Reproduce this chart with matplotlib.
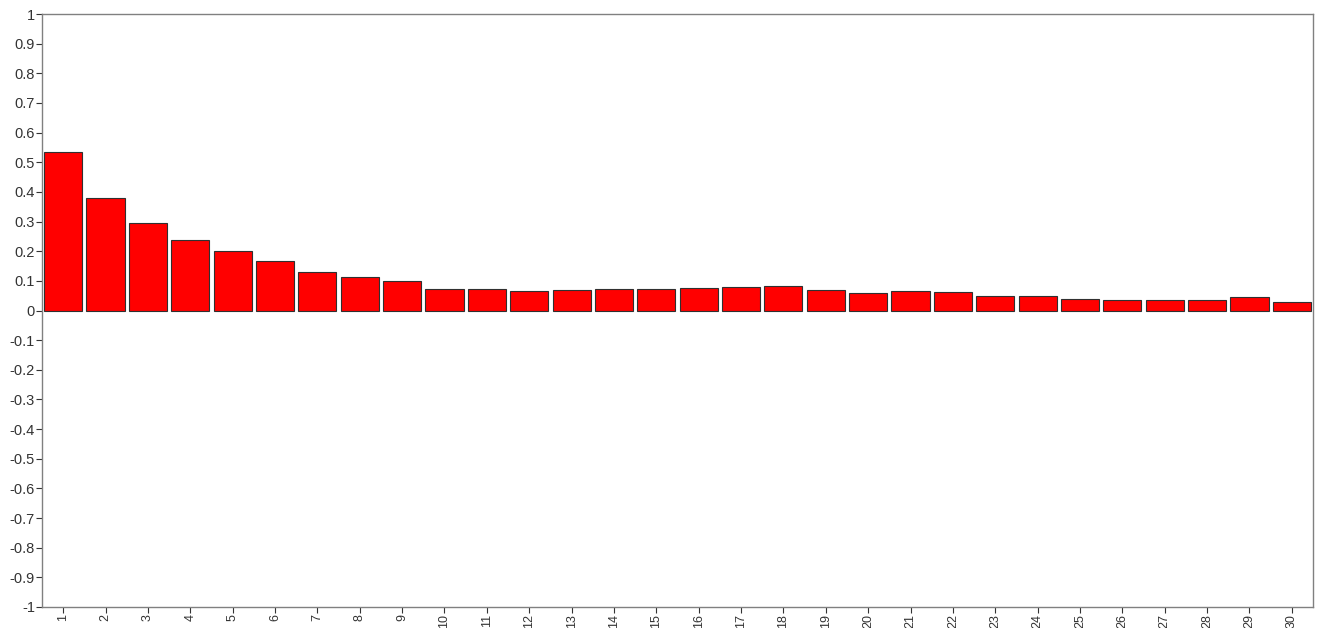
import matplotlib
matplotlib.use("Agg")
import matplotlib.pyplot as plt
import numpy as np

plt.rcParams['font.family'] = ['Liberation Sans', 'DejaVu Sans']

# lag number and autocorrelation value
lags = list(range(1, 31))
acf = [0.533, 0.380, 0.295, 0.237, 0.200, 0.167, 0.130, 0.113, 0.099, 0.074,
       0.072, 0.065, 0.068, 0.074, 0.072, 0.076, 0.080, 0.082, 0.068, 0.058,
       0.065, 0.061, 0.050, 0.048, 0.040, 0.036, 0.034, 0.036, 0.045, 0.029]
y_ticks = np.round(np.arange(-1, 1.01, 0.1), 1)
y_labels = ['-1' if v == -1 else '1' if v == 1 else '0' if v == 0 else ('%g' % v) for v in y_ticks]

fig = plt.figure(figsize=(13.23, 6.28), dpi=100)
ax = fig.add_axes([42/1323, 1-607/628, (1313-42)/1323, (607-14)/628])

ax.bar(lags, acf, width=0.9, color='#ff0000', edgecolor='#303030', linewidth=0.8)

ax.set_xlim(0.5, 30.5)
ax.set_ylim(-1, 1)
ax.set_xticks(lags)
ax.set_xticklabels([str(l) for l in lags], rotation=90)
ax.set_yticks(y_ticks)
ax.set_yticklabels(y_labels)
ax.tick_params(axis='y', labelsize=10.5, colors='#333333', length=4, width=0.8, pad=1)
ax.tick_params(axis='x', labelsize=9, colors='#333333', length=4, width=0.8, pad=1)
for s in ax.spines.values():
    s.set_color('#808080')
    s.set_linewidth(1.0)

fig.savefig('out.png', dpi=100)
